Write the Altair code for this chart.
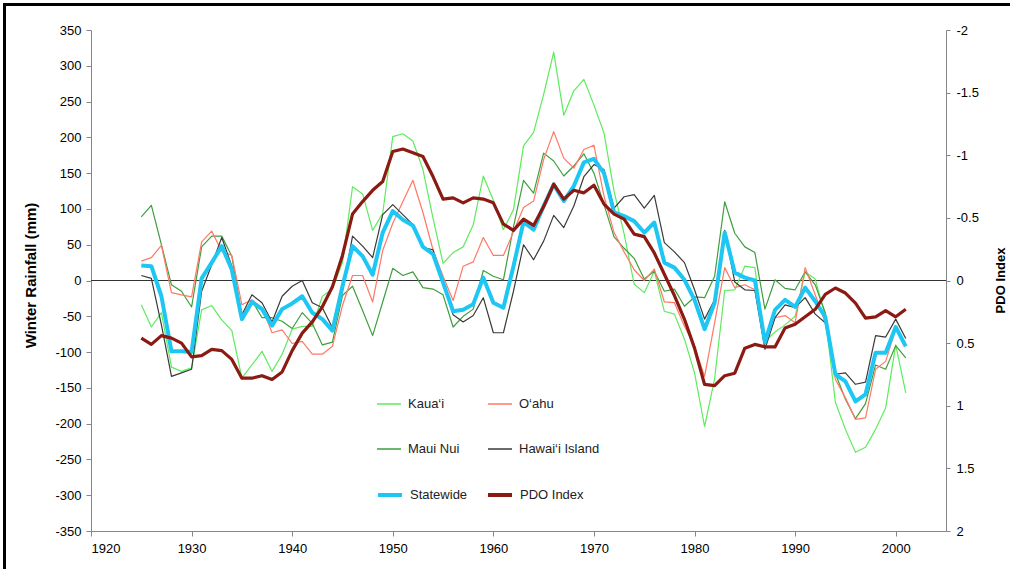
import altair as alt
import pandas as pd

years = list(range(1925, 2002))

kauai = [-34, -65, -45, -121, -127, -122, -41, -35, -55, -70,
         -136, -118, -99, -127, -103, -68, -64, -64, -22, -12,
         25, 131, 121, 70, 94, 201, 205, 195, 155, 87,
         24, 39, 47, 78, 146, 112, 71, 99, 188, 207,
         260, 319, 231, 265, 281, 245, 206, 125, 65, -5,
         -17, 13, -43, -47, -82, -129, -204, -137, -14, -13,
         20, 18, -85, -72, -62, -50, 12, 2, -50, -170,
         -208, -240, -233, -208, -178, -90, -157]

oahu = [27, 32, 49, -17, -20, -23, 54, 69, 41, 35,
        -34, -27, -38, -73, -69, -88, -85, -103, -103, -92,
        -35, 7, 7, -30, 42, 80, 110, 140, 95, 43,
        6, -28, 20, 26, 60, 35, 35, 68, 102, 111,
        169, 208, 171, 157, 183, 189, 118, 67, 40, 15,
        0, 16, -30, -31, -64, -92, -134, -59, 18, -10,
        -6, -13, -89, -52, -49, -59, 18, -20, -59, -138,
        -164, -194, -192, -124, -113, -68, -89]

maui = [89, 105, 50, -6, -15, -37, 47, 62, 62, 34,
        -50, -28, -52, -52, -57, -67, -45, -60, -90, -86,
        -21, -8, -42, -77, -30, 17, 7, 12, -10, -12,
        -20, -65, -50, -40, 14, 6, 1, 75, 140, 122,
        178, 167, 146, 160, 177, 150, 106, 61, 45, 31,
        2, 13, -15, -12, -36, -23, -24, 6, 110, 66,
        47, 39, -40, 1, -11, -13, 12, -6, -45, -130,
        -166, -193, -172, -118, -124, -91, -108]

hawaii = [7, 3, -62, -134, -129, -124, -15, 22, 60, 20,
          -48, -20, -31, -58, -22, -8, 0, -31, -38, -66,
          -15, 62, 48, 32, 92, 106, 92, 78, 46, 43,
          -3, -48, -58, -49, -24, -73, -73, -15, 50, 29,
          55, 91, 74, 104, 145, 162, 155, 101, 117, 120,
          101, 119, 53, 40, 25, -13, -54, -27, 70, -2,
          -13, -14, -96, -52, -34, -38, -24, -47, -59, -131,
          -129, -145, -142, -77, -79, -54, -81]

statewide = [21, 20, -22, -99, -99, -100, 3, 25, 48, 15,
             -54, -30, -40, -63, -40, -32, -22, -45, -54, -70,
             -8, 48, 34, 8, 67, 97, 85, 77, 47, 37,
             -3, -43, -41, -33, 4, -31, -38, 20, 82, 71,
             104, 134, 111, 132, 165, 170, 150, 95, 90, 83,
             67, 81, 25, 18, 1, -27, -68, -31, 67, 11,
             4, 0, -86, -41, -27, -37, -10, -29, -51, -131,
             -141, -169, -159, -101, -101, -65, -92]

pdo = [0.46, 0.51, 0.44, 0.46, 0.50, 0.61, 0.60, 0.55, 0.56, 0.63,
       0.78, 0.78, 0.76, 0.79, 0.73, 0.56, 0.42, 0.33, 0.21, 0.05,
       -0.20, -0.53, -0.63, -0.72, -0.79, -1.03, -1.05, -1.02, -0.99, -0.83,
       -0.65, -0.66, -0.62, -0.66, -0.65, -0.62, -0.45, -0.40, -0.49, -0.44,
       -0.59, -0.77, -0.65, -0.72, -0.70, -0.76, -0.61, -0.53, -0.49, -0.37,
       -0.35, -0.22, -0.05, 0.12, 0.31, 0.54, 0.83, 0.84, 0.76, 0.74,
       0.54, 0.51, 0.53, 0.53, 0.38, 0.35, 0.29, 0.23, 0.11, 0.06,
       0.10, 0.18, 0.30, 0.29, 0.24, 0.29, 0.23]

# island series (legend fills column by column: Kaua'i, Maui Nui | O'ahu, Hawai'i Island)
island_names = ["Kaua\u2018i", "Maui Nui", "O\u2018ahu", "Hawai\u2018i Island"]
island_colors = ["#5EEB5E", "#3E9E3E", "#FF7866", "#3A3A3A"]
island_values = [kauai, maui, oahu, hawaii]
thick_names = ["Statewide", "PDO Index"]
thick_colors = ["#1EC6F4", "#8B1A12"]

rain_ticks = list(range(-350, 351, 50))
pdo_ticks = [-2, -1.5, -1, -0.5, 0, 0.5, 1, 1.5, 2]
year_ticks = list(range(1920, 2001, 10))

islands = pd.concat([
    pd.DataFrame({"year": years, "value": vals, "series": name})
    for name, vals in zip(island_names, island_values)
])
state_df = pd.DataFrame({"year": years, "value": statewide, "series": thick_names[0]})
pdo_df = pd.DataFrame({"year": years, "pdo": pdo, "series": thick_names[1]})

FONT = "Liberation Sans"
AX = "#868686"

island_scale = alt.Scale(domain=island_names, range=island_colors)
thick_scale = alt.Scale(domain=thick_names, range=thick_colors)

island_legend = alt.Legend(title=None, orient="none", legendX=285, legendY=361,
                           columns=2, columnPadding=25, rowPadding=25,
                           symbolStrokeWidth=1.5)
thick_legend = alt.Legend(title=None, orient="none", legendX=285, legendY=451,
                          columns=2, columnPadding=12, rowPadding=25,
                          symbolStrokeWidth=4)

x_enc = alt.X("year:Q",
              scale=alt.Scale(domain=[1920, 2005], nice=False, zero=False),
              axis=alt.Axis(values=year_ticks, format="d", tickSize=5, labelPadding=6,
                            domainColor=AX, tickColor=AX, labelColor="#000",
                            labelFontSize=13, labelFont=FONT, grid=False, title=None))

rain_scale = alt.Scale(domain=[-350, 350], nice=False, zero=False)
rain_axis = alt.Axis(values=rain_ticks, tickSize=5, labelPadding=5,
                     domainColor=AX, tickColor=AX, labelColor="#000",
                     labelFontSize=13, labelFont=FONT, grid=False,
                     labelExpr="datum.value + ''",
                     title="Winter Rainfall (mm)", titleFont=FONT, titleFontSize=15,
                     titleFontWeight="bold", titleColor="#000",
                     titleX=-61, titleY=245, titleAngle=270,
                     titleAlign="center", titleBaseline="middle")

frame = alt.Chart(pd.DataFrame({"a": [0]})).mark_rect(
    fill="transparent", stroke="#000", strokeWidth=3
).encode(x=alt.value(-86.5), x2=alt.value(940), y=alt.value(-25.5), y2=alt.value(620))

zero = alt.Chart(pd.DataFrame({"a": [0]})).mark_rule(color="#333", strokeWidth=1).encode(
    y=alt.Y(datum=0, scale=rain_scale, axis=rain_axis)
)

isl = alt.Chart(islands).mark_line(strokeWidth=1.2, strokeJoin="round").encode(
    x=x_enc,
    y=alt.Y("value:Q", scale=rain_scale, axis=rain_axis),
    color=alt.Color("series:N", scale=island_scale, legend=island_legend),
)

state = alt.Chart(state_df).mark_line(strokeWidth=4, strokeJoin="round").encode(
    x=x_enc,
    y=alt.Y("value:Q", scale=rain_scale, axis=rain_axis),
    stroke=alt.Stroke("series:N", scale=thick_scale, legend=thick_legend),
)

left = alt.layer(frame, zero, isl, state)

right = alt.Chart(pdo_df).mark_line(strokeWidth=3.2, strokeJoin="round").encode(
    x=x_enc,
    y=alt.Y("pdo:Q",
            scale=alt.Scale(domain=[-2, 2], reverse=True, nice=False, zero=False),
            axis=alt.Axis(orient="right", values=pdo_ticks, tickSize=4, labelPadding=6,
                          domainColor=AX, tickColor=AX, labelColor="#000",
                          labelFontSize=13, labelFont=FONT, grid=False,
                          labelExpr="datum.value + ''",
                          title="PDO Index", titleFont=FONT, titleFontSize=13,
                          titleFontWeight="bold", titleColor="#000",
                          titleX=54, titleY=250, titleAngle=270,
                          titleAlign="center", titleBaseline="middle")),
    stroke=alt.Stroke("series:N", scale=thick_scale, legend=thick_legend),
)

chart = alt.layer(left, right).resolve_scale(y="independent").properties(
    width=855, height=501,
    autosize=alt.AutoSizeParams(type="none"),
    padding={"left": 91, "top": 30, "right": 64, "bottom": 38},
    background="#ffffff",
).configure_view(strokeWidth=0).configure_legend(
    symbolType="stroke", symbolSize=576, labelFont=FONT, labelFontSize=13,
    labelColor="#222", labelOffset=6, padding=0, symbolOpacity=1,
)

chart.save("out.html", embed_options={"renderer": "svg", "actions": False})
